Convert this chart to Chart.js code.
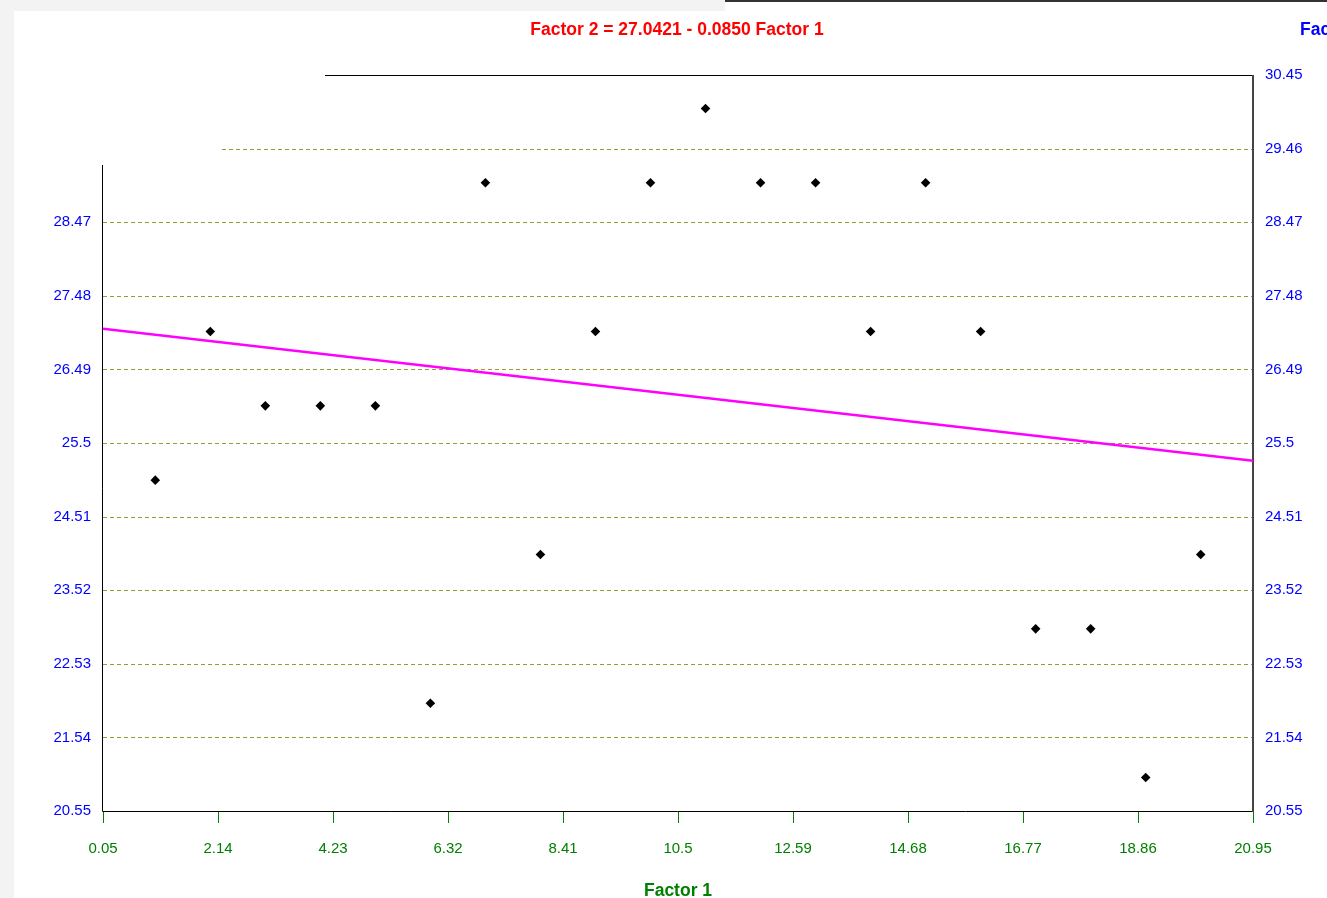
<!DOCTYPE html>
<html>
<head>
<meta charset="utf-8">
<script src="https://cdn.jsdelivr.net/npm/chart.js@4/dist/chart.umd.min.js"></script>
<style>
  html, body { margin: 0; padding: 0; background: #fff; overflow: hidden; }
  #wrap { width: 1327px; height: 898px; position: relative; }
</style>
</head>
<body>
<div id="wrap"><canvas id="scatter-chart" width="1327" height="898"></canvas></div>
<script>
// values
var factor1 = [1, 2, 3, 4, 5, 6, 7, 8, 9, 10, 11, 12, 13, 14, 15, 16, 17, 18, 19, 20];
var factor2 = [25, 27, 26, 26, 26, 22, 29, 24, 27, 29, 30, 29, 29, 27, 29, 27, 23, 23, 21, 24];
var fitX = [0.05, 20.95];
var fitY = [27.038, 25.261];
var xTicks = [0.05, 2.14, 4.23, 6.32, 8.41, 10.5, 12.59, 14.68, 16.77, 18.86, 20.95];
var yTicks = [20.55, 21.54, 22.53, 23.52, 24.51, 25.5, 26.49, 27.48, 28.47, 29.46, 30.45];
var leftHidden = [29.46, 30.45];
var titleText = 'Factor 2 = 27.0421 - 0.0850 Factor 1';

var FONT = '"Liberation Sans", Arial, sans-serif';

function fixTicks(list) {
    return function (scale) {
        scale.ticks = list.map(function (v) { return { value: v }; });
    };
}

// frame, grid, titles: drawn with positions from the chart scales
var framePlugin = {
    id: 'frame',
    beforeDraw: function (chart) {
        var c = chart.ctx;
        c.save();
        c.fillStyle = '#f3f3f3';
        c.fillRect(0, 0, 725, 11);
        c.fillRect(0, 0, 14, chart.height);
        c.fillStyle = '#333';
        c.fillRect(725, 0, chart.width - 725, 2);
        c.restore();
    },
    beforeDatasetsDraw: function (chart) {
        var c = chart.ctx, a = chart.chartArea, ys = chart.scales.y;
        c.save();
        c.strokeStyle = '#9a9a2e';
        c.lineWidth = 1.2;
        c.setLineDash([4, 3]);
        yTicks.forEach(function (v, i) {
            if (i === 0 || i === yTicks.length - 1) return;
            var py = Math.round(ys.getPixelForValue(v)) + 0.5;
            var x0 = v === 29.46 ? a.left + 119 : a.left;
            c.beginPath();
            c.moveTo(x0, py);
            c.lineTo(a.right, py);
            c.stroke();
        });
        c.setLineDash([]);
        // axes lines
        c.strokeStyle = '#000';
        c.lineWidth = 1;
        c.beginPath();
        c.moveTo(a.left - 0.5, a.top + 90);
        c.lineTo(a.left - 0.5, a.bottom + 0.5);
        c.lineTo(a.right, a.bottom + 0.5);
        c.moveTo(a.left + 222, a.top + 0.5);
        c.lineTo(a.right, a.top + 0.5);
        c.stroke();
        c.strokeStyle = '#444';
        c.lineWidth = 2;
        c.beginPath();
        c.moveTo(a.right, a.top);
        c.lineTo(a.right, a.bottom + 1);
        c.stroke();
        c.restore();
    },
    afterDraw: function (chart) {
        var c = chart.ctx, a = chart.chartArea;
        c.save();
        c.textBaseline = 'middle';
        c.font = 'bold 17.5px ' + FONT;
        c.textAlign = 'center';
        c.fillStyle = '#ff0000';
        c.fillText(titleText, 677, 30);
        c.fillStyle = '#0000ff';
        c.textAlign = 'left';
        c.fillText('Factor 2', 1300, 30);
        c.fillStyle = '#008000';
        c.textAlign = 'center';
        c.fillText('Factor 1', (a.left + a.right) / 2, 891);
        c.restore();
    }
};

new Chart(document.getElementById('scatter-chart'), {
    type: 'scatter',
    data: {
        datasets: [{
            label: 'Factor 2',
            data: factor1.map(function (x, i) { return { x: x, y: factor2[i] }; }),
            pointStyle: 'rectRot',
            pointRadius: 4.8,
            pointHoverRadius: 4.8,
            backgroundColor: '#000',
            borderColor: '#000',
            borderWidth: 0,
            order: 1
        }, {
            type: 'line',
            label: 'Fit',
            data: fitX.map(function (x, i) { return { x: x, y: fitY[i] }; }),
            borderColor: '#ff00ff',
            borderWidth: 2.5,
            pointRadius: 0,
            fill: false,
            order: 2
        }]
    },
    options: {
        responsive: false,
        animation: false,
        events: [],
        layout: { padding: { top: 75, left: 0, right: 0, bottom: 0 } },
        plugins: {
            legend: { display: false },
            tooltip: { enabled: false },
            title: { display: false }
        },
        scales: {
            x: {
                type: 'linear',
                min: 0.05,
                max: 20.95,
                afterBuildTicks: fixTicks(xTicks),
                afterFit: function (s) { s.height = 87; },
                border: { display: false },
                grid: { display: true, drawOnChartArea: false, drawTicks: true, tickLength: 12, color: '#008000', lineWidth: 1 },
                ticks: {
                    color: '#008000',
                    font: { family: FONT, size: 15 },
                    padding: 17,
                    maxRotation: 0,
                    autoSkip: false,
                    callback: function (v) { return String(v); }
                }
            },
            y: {
                type: 'linear',
                position: 'left',
                min: 20.55,
                max: 30.45,
                afterBuildTicks: fixTicks(yTicks),
                afterFit: function (s) { s.width = 103; },
                border: { display: false },
                grid: { display: false, drawTicks: false },
                ticks: {
                    color: '#0000ff',
                    font: { family: FONT, size: 15 },
                    padding: 12,
                    autoSkip: false,
                    callback: function (v) { return leftHidden.indexOf(v) >= 0 ? '' : String(v); }
                }
            },
            y2: {
                type: 'linear',
                position: 'right',
                min: 20.55,
                max: 30.45,
                afterBuildTicks: fixTicks(yTicks),
                afterFit: function (s) { s.width = 74; },
                border: { display: false },
                grid: { display: false, drawTicks: false },
                ticks: {
                    color: '#0000ff',
                    font: { family: FONT, size: 15 },
                    padding: 12,
                    autoSkip: false,
                    callback: function (v) { return String(v); }
                }
            }
        }
    },
    plugins: [framePlugin]
});
</script>
</body>
</html>
